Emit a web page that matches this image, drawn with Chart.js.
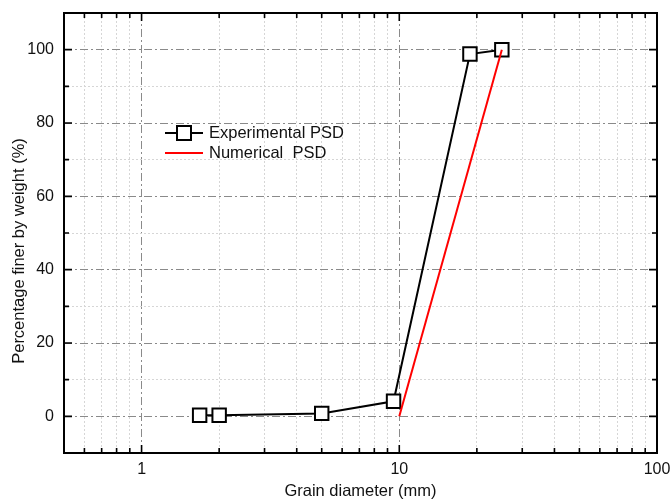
<!DOCTYPE html>
<html>
<head>
<meta charset="utf-8">
<script src="https://cdn.jsdelivr.net/npm/chart.js@4"></script>
<style>
  body { margin: 0; background: #fff; }
  #wrap { width: 672px; height: 501px; }
</style>
</head>
<body>
<div id="wrap"><canvas id="psd" width="672" height="501"></canvas></div>
<script>
// grain size distribution
const expDiameter = [1.68, 2.0, 5.0, 9.5, 18.8, 25];
const expFiner = [0.3, 0.3, 0.8, 4.1, 98.8, 100];
const numDiameter = [10, 25];
const numFiner = [0, 100];

const xMajorTicks = [1, 10, 100];
const xMinorTicks = [0.5, 0.6, 0.7, 0.8, 0.9, 2, 3, 4, 5, 6, 7, 8, 9, 20, 30, 40, 50, 60, 70, 80, 90];
const yMajorTicks = [0, 20, 40, 60, 80, 100];
const yMinorTicks = [-10, 10, 30, 50, 70, 90, 110];

const FONT = '"Liberation Sans", Arial, sans-serif';
const TEXT = '#111';

const isMajor = (list, c) => c.tick && list.includes(c.tick.value);

// box, inward ticks on all four sides, y title, legend
const frame = {
    id: 'frame',
    afterDraw(chart) {
        const { ctx, chartArea: a, scales: { x, y } } = chart;
        ctx.save();
        ctx.strokeStyle = '#000';
        ctx.lineWidth = 1.6;
        ctx.beginPath();
        x.ticks.forEach(t => {
            const px = x.getPixelForValue(t.value);
            const len = xMajorTicks.includes(t.value) ? 8 : 5;
            ctx.moveTo(px, a.bottom); ctx.lineTo(px, a.bottom - len);
            ctx.moveTo(px, a.top); ctx.lineTo(px, a.top + len);
        });
        y.ticks.forEach(t => {
            const py = y.getPixelForValue(t.value);
            const len = yMajorTicks.includes(t.value) ? 8 : 5;
            ctx.moveTo(a.left, py); ctx.lineTo(a.left + len, py);
            ctx.moveTo(a.right, py); ctx.lineTo(a.right - len, py);
        });
        ctx.stroke();
        ctx.lineWidth = 2;
        ctx.strokeRect(a.left, a.top, a.right - a.left, a.bottom - a.top);

        // y axis title (sits a bit below the plot centre in the original)
        ctx.fillStyle = TEXT;
        ctx.font = '16.5px ' + FONT;
        ctx.textAlign = 'center';
        ctx.textBaseline = 'middle';
        ctx.save();
        ctx.translate(19, 251);
        ctx.rotate(-Math.PI / 2);
        ctx.fillText('Percentage finer by weight (%)', 0, 0);
        ctx.restore();

        // legend
        ctx.textAlign = 'left';
        ctx.lineWidth = 2;
        ctx.strokeStyle = '#000';
        ctx.beginPath();
        ctx.moveTo(165, 133); ctx.lineTo(203, 133);
        ctx.stroke();
        ctx.fillStyle = '#fff';
        ctx.fillRect(177, 126, 14, 14);
        ctx.strokeRect(177, 126, 14, 14);
        ctx.strokeStyle = '#ff0000';
        ctx.beginPath();
        ctx.moveTo(165, 153); ctx.lineTo(203, 153);
        ctx.stroke();
        ctx.fillStyle = TEXT;
        ctx.fillText('Experimental PSD', 209, 133);
        ctx.fillText('Numerical  PSD', 209, 153);
        ctx.restore();
    }
};

new Chart(document.getElementById('psd'), {
    type: 'scatter',
    data: {
        datasets: [{
            label: 'Experimental PSD',
            data: expDiameter.map((d, i) => ({ x: d, y: expFiner[i] })),
            showLine: true,
            borderColor: '#000',
            borderWidth: 2,
            pointStyle: 'rect',
            pointRadius: 9.5,
            pointBorderWidth: 2,
            pointBackgroundColor: '#fff',
            pointBorderColor: '#000',
            order: 1,
        }, {
            label: 'Numerical  PSD',
            data: numDiameter.map((d, i) => ({ x: d, y: numFiner[i] })),
            showLine: true,
            borderColor: '#ff0000',
            borderWidth: 2,
            pointRadius: 0,
            order: 0,
        }]
    },
    options: {
        responsive: false,
        animation: false,
        layout: { padding: { top: 13, right: 15, left: 0, bottom: 0 } },
        plugins: { legend: { display: false }, tooltip: { enabled: false } },
        scales: {
            x: {
                type: 'logarithmic',
                min: 0.5,
                max: 100,
                afterBuildTicks: s => {
                    s.ticks = [...xMinorTicks, ...xMajorTicks].sort((p, q) => p - q).map(v => ({ value: v }));
                },
                afterFit: s => { s.height = 48; s.paddingLeft = 0; s.paddingRight = 0; },
                ticks: {
                    autoSkip: false,
                    maxRotation: 0,
                    padding: 7,
                    color: TEXT,
                    font: { size: 16, family: FONT },
                    callback: v => xMajorTicks.includes(v) ? String(v) : '',
                },
                grid: {
                    drawTicks: false,
                    lineWidth: 1,
                    color: c => isMajor(xMajorTicks, c) ? '#8a8a8a' : '#d6d6d6',
                },
                border: {
                    display: false,
                    dash: c => isMajor(xMajorTicks, c) ? [8, 3, 2, 3] : [2, 2],
                },
                title: {
                    display: true,
                    text: 'Grain diameter (mm)',
                    color: TEXT,
                    font: { size: 16.5, family: FONT },
                    padding: 0,
                },
            },
            y: {
                min: -10,
                max: 110,
                afterBuildTicks: s => {
                    s.ticks = [...yMinorTicks, ...yMajorTicks].sort((p, q) => p - q).map(v => ({ value: v }));
                },
                afterFit: s => { s.width = 64; s.paddingTop = 0; s.paddingBottom = 0; },
                ticks: {
                    autoSkip: false,
                    padding: 10,
                    color: TEXT,
                    font: { size: 16, family: FONT },
                    callback: v => yMajorTicks.includes(v) ? String(v) : '',
                },
                grid: {
                    drawTicks: false,
                    lineWidth: 1,
                    color: c => isMajor(yMajorTicks, c) ? '#8a8a8a' : '#d6d6d6',
                },
                border: {
                    display: false,
                    dash: c => isMajor(yMajorTicks, c) ? [8, 3, 2, 3] : [2, 2],
                },
            }
        }
    },
    plugins: [frame]
});
</script>
</body>
</html>
